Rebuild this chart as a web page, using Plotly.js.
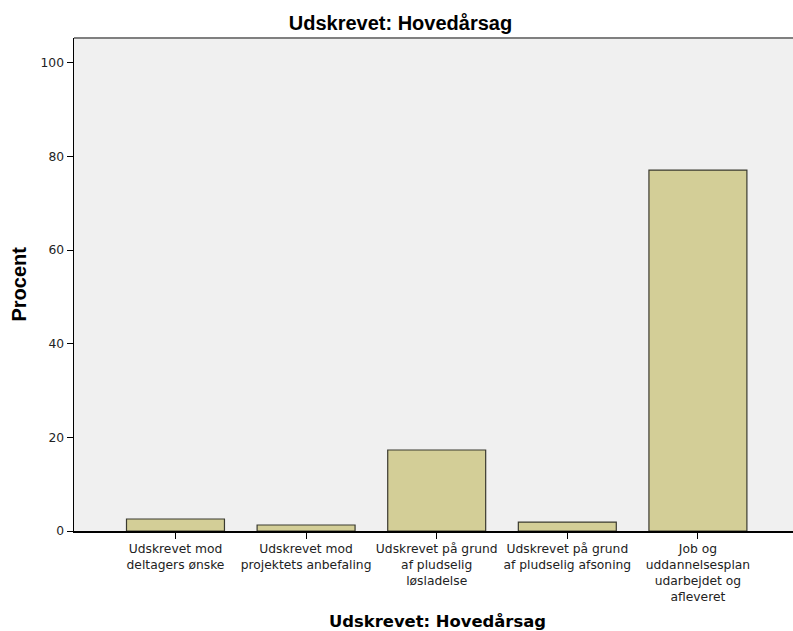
<!DOCTYPE html>
<html>
<head>
<meta charset="utf-8">
<script src="https://cdn.plot.ly/plotly-3.0.1.min.js"></script>
<style>html,body{margin:0;padding:0;background:#fff;}#chart{width:793px;height:631px;}</style>
</head>
<body>
<div id="chart"></div>
<script>
const categories = [
  "Udskrevet mod<br>deltagers ønske",
  "Udskrevet mod<br>projektets anbefaling",
  "Udskrevet på grund<br>af pludselig<br>løsladelse",
  "Udskrevet på grund<br>af pludselig afsoning",
  "Job og<br>uddannelsesplan<br>udarbejdet og<br>afleveret"
];
const percent = [2.56, 1.28, 17.3, 1.9, 77.1];
const yTicks = [0, 20, 40, 60, 80, 100];

const trace = {
  type: 'bar',
  x: [0, 1, 2, 3, 4],
  y: percent,
  width: 0.75,
  marker: {color: '#d3ce97', line: {color: '#3a3a30', width: 1.2}},
  hoverinfo: 'none'
};

const tickFont = {family: 'DejaVu Sans, sans-serif', size: 12.3, color: '#222'};

const layout = {
  width: 793, height: 631,
  margin: {l: 74, r: 0, t: 38, b: 100, pad: 0},
  paper_bgcolor: '#ffffff',
  plot_bgcolor: '#f0f0f0',
  showlegend: false,
  title: {
    text: '<b>Udskrevet: Hovedårsag</b>',
    font: {family: 'Liberation Sans, Arial, sans-serif', size: 20, color: '#000'},
    x: 0.505, xanchor: 'center', xref: 'container',
    y: 0.963, yanchor: 'middle', yref: 'container'
  },
  xaxis: {
    range: [-0.777, 4.728],
    tickmode: 'array',
    tickvals: [0, 1, 2, 3, 4],
    ticktext: categories,
    ticks: 'outside', ticklen: 6, tickwidth: 1, tickcolor: '#000',
    showline: true, linecolor: '#000', linewidth: 1.5,
    showgrid: false, zeroline: false,
    tickfont: tickFont,
    fixedrange: true
  },
  yaxis: {
    range: [0, 105.3],
    tickmode: 'array',
    tickvals: yTicks,
    ticktext: yTicks.map(String),
    ticks: 'outside', ticklen: 6, tickwidth: 1, tickcolor: '#000',
    showline: true, linecolor: '#000', linewidth: 1.5,
    showgrid: false, zeroline: false,
    tickfont: tickFont,
    fixedrange: true
  },
  shapes: [{
    type: 'line', xref: 'paper', yref: 'paper', x0: 0, x1: 1, y0: 1, y1: 1,
    line: {color: '#808080', width: 2}
  }],
  annotations: [
    {
      text: '<b>Udskrevet: Hovedårsag</b>', xref: 'paper', yref: 'paper',
      x: 0.505, y: -0.1826, xanchor: 'center', yanchor: 'middle', showarrow: false,
      font: {family: 'DejaVu Sans, sans-serif', size: 16.4, color: '#000'}
    },
    {
      text: '<b>Procent</b>', xref: 'paper', yref: 'paper',
      x: -0.0778, y: 0.5, xanchor: 'center', yanchor: 'middle', showarrow: false,
      textangle: -90,
      font: {family: 'Liberation Sans, Arial, sans-serif', size: 20, color: '#000'}
    }
  ]
};

Plotly.newPlot('chart', [trace], layout, {displayModeBar: false, staticPlot: true});
</script>
</body>
</html>
